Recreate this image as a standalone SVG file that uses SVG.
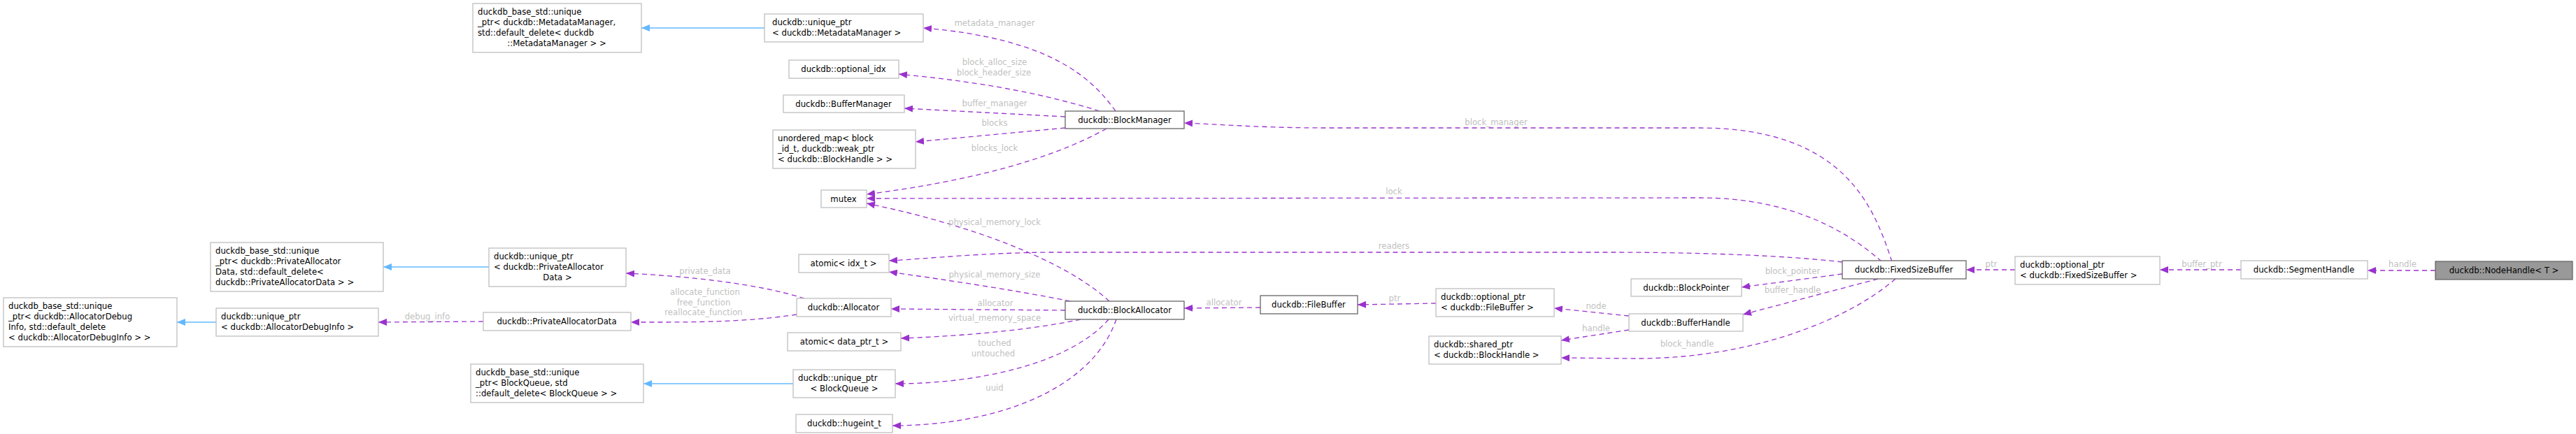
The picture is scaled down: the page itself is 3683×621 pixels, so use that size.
<svg xmlns="http://www.w3.org/2000/svg" width="3683" height="621" viewBox="0 0 3683 621">
<style>
.n rect{fill:#fff;stroke:#bfbfbf;stroke-width:1.3}
.n.d rect{stroke:#666}
.n.m rect{fill:#999;stroke:#666}
text{font-family:"DejaVu Sans",sans-serif;font-size:11.7px;fill:#000}
.s{text-anchor:start}
.c{text-anchor:middle}
.e path{fill:none;stroke:#9a32cd;stroke-width:1.3;stroke-dasharray:7,5}
.e path.i{stroke:#63b8ff;stroke-dasharray:none}
.l text{fill:#bfbfbf;text-anchor:middle}
</style>
<defs>
<marker id="a" viewBox="0 0 12 10" refX="12" refY="5" markerWidth="12" markerHeight="10" markerUnits="userSpaceOnUse" orient="auto"><path d="M0,0L12,5L0,10z" fill="#9a32cd"/></marker>
<marker id="b" viewBox="0 0 12 10" refX="12" refY="5" markerWidth="12" markerHeight="10" markerUnits="userSpaceOnUse" orient="auto"><path d="M0,0L12,5L0,10z" fill="#63b8ff"/></marker>
</defs>
<g class="e" id="edges">
<path d="M3482,387L3385,387" marker-end="url(#a)"/>
<path d="M3204,386L3088,386" marker-end="url(#a)"/>
<path d="M2881,386L2811,386" marker-end="url(#a)"/>
<path d="M2705,374C2680,300 2640,183 2430,183L1900,183C1800,183 1750,178 1693,176" marker-end="url(#a)"/>
<path d="M2690,374C2640,330 2560,283 2430,283L1239,284" marker-end="url(#a)"/>
<path d="M2634,375C2550,365 2420,361 2300,361L1500,361C1400,362 1330,370 1271,373" marker-end="url(#a)"/>
<path d="M2634,392L2490,411" marker-end="url(#a)"/>
<path d="M2685,399L2492,450" marker-end="url(#a)"/>
<path d="M2710,399C2640,460 2500,513 2340,513L2232,512" marker-end="url(#a)"/>
<path d="M2329,452L2222,441" marker-end="url(#a)"/>
<path d="M2329,472L2232,487" marker-end="url(#a)"/>
<path d="M2053,434L1941,436" marker-end="url(#a)"/>
<path d="M1802,440L1693,441" marker-end="url(#a)"/>
<path d="M1595,159C1560,110 1500,55 1320,40" marker-end="url(#a)"/>
<path d="M1572,159C1480,130 1380,115 1285,106" marker-end="url(#a)"/>
<path d="M1523,167L1293,155" marker-end="url(#a)"/>
<path d="M1523,183L1309,203" marker-end="url(#a)"/>
<path d="M1582,184C1500,230 1380,260 1239,278" marker-end="url(#a)"/>
<path d="M1586,431C1520,370 1380,320 1239,291" marker-end="url(#a)"/>
<path d="M1530,431C1450,415 1350,400 1271,389" marker-end="url(#a)"/>
<path d="M1523,444L1274,442" marker-end="url(#a)"/>
<path d="M1545,457C1460,475 1350,482 1288,484" marker-end="url(#a)"/>
<path d="M1585,457C1530,520 1400,549 1280,549" marker-end="url(#a)"/>
<path d="M1596,457C1560,560 1420,609 1276,609" marker-end="url(#a)"/>
<path d="M1150,427C1080,405 980,395 895,391" marker-end="url(#a)"/>
<path d="M1139,450C1060,462 980,461 902,461" marker-end="url(#a)"/>
<path d="M691,460L541,461" marker-end="url(#a)"/>
<path class="i" d="M1093,40L917,40" marker-end="url(#b)"/>
<path class="i" d="M699,382L548,382" marker-end="url(#b)"/>
<path class="i" d="M309,461L253,461" marker-end="url(#b)"/>
<path class="i" d="M1134,549L920,549" marker-end="url(#b)"/>
</g>
<g class="l" id="edge-labels">
<text x="3435" y="382">handle</text>
<text x="3148" y="382">buffer_ptr</text>
<text x="2847" y="382">ptr</text>
<text x="2139" y="179">block_manager</text>
<text x="1993" y="278">lock</text>
<text x="1993" y="356">readers</text>
<text x="2563" y="392">block_pointer</text>
<text x="2563" y="419">buffer_handle</text>
<text x="2412" y="496">block_handle</text>
<text x="2282" y="442">node</text>
<text x="2282" y="474">handle</text>
<text x="1994" y="431">ptr</text>
<text x="1750" y="437">allocator</text>
<text x="1422" y="37">metadata_manager</text>
<text x="1422" y="93">block_alloc_size</text>
<text x="1421" y="108">block_header_size</text>
<text x="1422" y="152">buffer_manager</text>
<text x="1422" y="180">blocks</text>
<text x="1422" y="216">blocks_lock</text>
<text x="1422" y="322">physical_memory_lock</text>
<text x="1422" y="397">physical_memory_size</text>
<text x="1423" y="438">allocator</text>
<text x="1422" y="459">virtual_memory_space</text>
<text x="1422" y="495">touched</text>
<text x="1420" y="510">untouched</text>
<text x="1422" y="559">uuid</text>
<text x="1008" y="392">private_data</text>
<text x="1008" y="422">allocate_function</text>
<text x="1006" y="437">free_function</text>
<text x="1006" y="451">reallocate_function</text>
<text x="611" y="457">debug_info</text>
</g>
<g class="n m" id="NodeHandle"><rect x="3482" y="374" width="196" height="26"/><text class="c" x="3580" y="391">duckdb::NodeHandle&lt; T &gt;</text></g>
<g class="n" id="SegmentHandle"><rect x="3204" y="373" width="181" height="26"/><text class="c" x="3294" y="390">duckdb::SegmentHandle</text></g>
<g class="n" id="OptionalPtrFSB"><rect x="2881" y="367" width="207" height="40"/><text class="s" x="2888" y="383">duckdb::optional_ptr</text><text class="s" x="2888" y="398">&lt; duckdb::FixedSizeBuffer &gt;</text></g>
<g class="n d" id="FixedSizeBuffer"><rect x="2634" y="373" width="177" height="26"/><text class="c" x="2722" y="390">duckdb::FixedSizeBuffer</text></g>
<g class="n" id="BlockPointer"><rect x="2332" y="399" width="158" height="25"/><text class="c" x="2411" y="416">duckdb::BlockPointer</text></g>
<g class="n" id="BufferHandle"><rect x="2329" y="449" width="163" height="25"/><text class="c" x="2410" y="466">duckdb::BufferHandle</text></g>
<g class="n" id="OptionalPtrFB"><rect x="2053" y="413" width="169" height="40"/><text class="s" x="2060" y="429">duckdb::optional_ptr</text><text class="s" x="2060" y="444">&lt; duckdb::FileBuffer &gt;</text></g>
<g class="n" id="SharedPtrBH"><rect x="2043" y="481" width="189" height="40"/><text class="s" x="2050" y="497">duckdb::shared_ptr</text><text class="s" x="2050" y="512">&lt; duckdb::BlockHandle &gt;</text></g>
<g class="n d" id="FileBuffer"><rect x="1802" y="423" width="139" height="26"/><text class="c" x="1871" y="440">duckdb::FileBuffer</text></g>
<g class="n d" id="BlockManager"><rect x="1523" y="159" width="170" height="25"/><text class="c" x="1608" y="176">duckdb::BlockManager</text></g>
<g class="n d" id="BlockAllocator"><rect x="1523" y="431" width="170" height="26"/><text class="c" x="1608" y="448">duckdb::BlockAllocator</text></g>
<g class="n" id="UniquePtrMM"><rect x="1093" y="20" width="227" height="40"/><text class="s" x="1104" y="36">duckdb::unique_ptr</text><text class="s" x="1104" y="51">&lt; duckdb::MetadataManager &gt;</text></g>
<g class="n" id="OptionalIdx"><rect x="1128" y="86" width="157" height="26"/><text class="c" x="1206" y="103">duckdb::optional_idx</text></g>
<g class="n" id="BufferManager"><rect x="1120" y="136" width="173" height="25"/><text class="c" x="1206" y="153">duckdb::BufferManager</text></g>
<g class="n" id="UnorderedMap"><rect x="1105" y="186" width="204" height="55"/><text class="s" x="1112" y="202">unordered_map&lt; block</text><text class="s" x="1112" y="217">_id_t, duckdb::weak_ptr</text><text class="s" x="1112" y="232">&lt; duckdb::BlockHandle &gt; &gt;</text></g>
<g class="n" id="Mutex"><rect x="1174" y="272" width="65" height="25"/><text class="c" x="1206" y="289">mutex</text></g>
<g class="n" id="AtomicIdx"><rect x="1142" y="364" width="129" height="26"/><text class="c" x="1206" y="381">atomic&lt; idx_t &gt;</text></g>
<g class="n" id="Allocator"><rect x="1139" y="427" width="135" height="26"/><text class="c" x="1206" y="444">duckdb::Allocator</text></g>
<g class="n" id="AtomicDataPtr"><rect x="1126" y="476" width="162" height="26"/><text class="c" x="1207" y="493">atomic&lt; data_ptr_t &gt;</text></g>
<g class="n" id="UniquePtrBQ"><rect x="1134" y="529" width="146" height="40"/><text class="s" x="1141" y="545">duckdb::unique_ptr</text><text class="c" x="1207" y="560">&lt; BlockQueue &gt;</text></g>
<g class="n" id="Hugeint"><rect x="1138" y="593" width="138" height="26"/><text class="c" x="1207" y="610">duckdb::hugeint_t</text></g>
<g class="n" id="BaseMM"><rect x="676" y="5" width="241" height="70"/><text class="s" x="683" y="21">duckdb_base_std::unique</text><text class="s" x="683" y="36">_ptr&lt; duckdb::MetadataManager,</text><text class="s" x="683" y="51"> std::default_delete&lt; duckdb</text><text class="c" x="796" y="66">::MetadataManager &gt; &gt;</text></g>
<g class="n" id="BaseBQ"><rect x="673" y="521" width="247" height="55"/><text class="s" x="680" y="537">duckdb_base_std::unique</text><text class="s" x="680" y="552">_ptr&lt; BlockQueue, std</text><text class="s" x="680" y="567">::default_delete&lt; BlockQueue &gt; &gt;</text></g>
<g class="n" id="UniquePtrPAD"><rect x="699" y="355" width="196" height="55"/><text class="s" x="706" y="371">duckdb::unique_ptr</text><text class="s" x="706" y="386">&lt; duckdb::PrivateAllocator</text><text class="c" x="797" y="401">Data &gt;</text></g>
<g class="n" id="PrivateAllocatorData"><rect x="691" y="447" width="211" height="26"/><text class="c" x="796" y="464">duckdb::PrivateAllocatorData</text></g>
<g class="n" id="BasePAD"><rect x="301" y="347" width="247" height="70"/><text class="s" x="308" y="363">duckdb_base_std::unique</text><text class="s" x="308" y="378">_ptr&lt; duckdb::PrivateAllocator</text><text class="s" x="308" y="393">Data, std::default_delete&lt;</text><text class="s" x="308" y="408"> duckdb::PrivateAllocatorData &gt; &gt;</text></g>
<g class="n" id="UniquePtrADI"><rect x="309" y="441" width="232" height="40"/><text class="s" x="316" y="457">duckdb::unique_ptr</text><text class="s" x="316" y="472">&lt; duckdb::AllocatorDebugInfo &gt;</text></g>
<g class="n" id="BaseADI"><rect x="5" y="426" width="248" height="70"/><text class="s" x="12" y="442">duckdb_base_std::unique</text><text class="s" x="12" y="457">_ptr&lt; duckdb::AllocatorDebug</text><text class="s" x="12" y="472">Info, std::default_delete</text><text class="s" x="12" y="487">&lt; duckdb::AllocatorDebugInfo &gt; &gt;</text></g>
</svg>
